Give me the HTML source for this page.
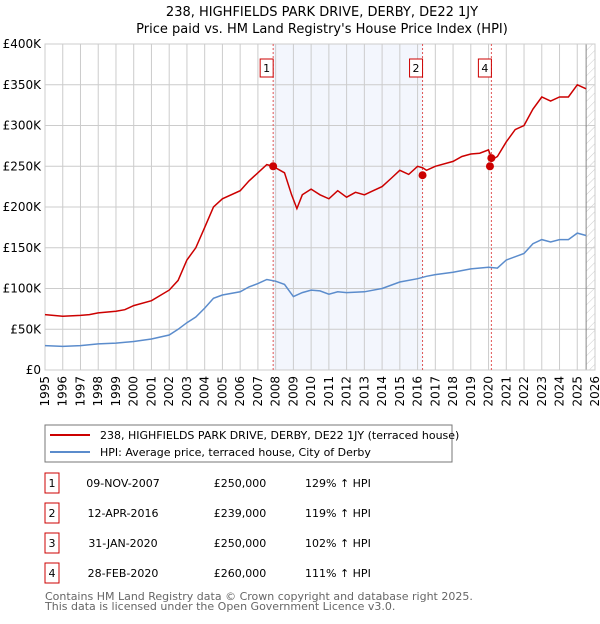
<!DOCTYPE html>
<html><head><meta charset="utf-8">
<style>
body{margin:0;background:#fff;width:600px;height:620px;overflow:hidden;font-family:"DejaVu Sans","Liberation Sans",sans-serif;}
svg text{font-family:"DejaVu Sans","Liberation Sans",sans-serif;}
</style></head>
<body>
<svg id="chart" width="600" height="620" xmlns="http://www.w3.org/2000/svg">
<defs><pattern id="hatch" width="6" height="6" patternUnits="userSpaceOnUse" patternTransform="rotate(45)"><line x1="0" y1="0" x2="0" y2="6" stroke="#ccc" stroke-width="1"/></pattern></defs>
<text x="322" y="16" text-anchor="middle" font-size="13">238, HIGHFIELDS PARK DRIVE, DERBY, DE22 1JY</text>
<text x="322" y="33" text-anchor="middle" font-size="13">Price paid vs. HM Land Registry's House Price Index (HPI)</text>
<g id="plot"></g>
<rect x="45" y="425" width="407" height="37" fill="none" stroke="#777"/>
<line x1="50" y1="435" x2="90" y2="435" stroke="#cc0000" stroke-width="2"/>
<text x="100" y="439" font-size="11">238, HIGHFIELDS PARK DRIVE, DERBY, DE22 1JY (terraced house)</text>
<line x1="50" y1="452" x2="90" y2="452" stroke="#5b8ccc" stroke-width="2"/>
<text x="100" y="456" font-size="11">HPI: Average price, terraced house, City of Derby</text>
<g id="table" font-size="11"></g>
<text x="45" y="600" font-size="11" fill="#666">Contains HM Land Registry data © Crown copyright and database right 2025.</text>
<text x="45" y="610" font-size="11" fill="#666">This data is licensed under the Open Government Licence v3.0.</text>
</svg>
<script>
const propYears=[1995,1996,1997,1997.5,1998,1999,1999.5,2000,2001,2002,2002.5,2003,2003.5,2004,2004.5,2005,2006,2006.5,2007,2007.5,2007.85,2008.5,2008.9,2009.2,2009.5,2010,2010.5,2011,2011.5,2012,2012.5,2013,2013.5,2014,2014.5,2015,2015.5,2016,2016.3,2016.5,2017,2018,2018.5,2019,2019.5,2020,2020.2,2020.5,2021,2021.5,2022,2022.5,2023,2023.5,2024,2024.5,2025,2025.5];
const propVals=[68,66,67,68,70,72,74,79,85,98,110,135,150,175,200,210,220,232,242,252,250,242,215,198,215,222,215,210,220,212,218,215,220,225,235,245,240,250,248,245,250,256,262,265,266,270,258,262,280,295,300,320,335,330,335,335,350,345];
const hpiYears=[1995,1996,1997,1998,1999,2000,2001,2002,2002.5,2003,2003.5,2004,2004.5,2005,2006,2006.5,2007,2007.5,2008,2008.5,2009,2009.5,2010,2010.5,2011,2011.5,2012,2013,2014,2015,2016,2016.5,2017,2018,2019,2020,2020.5,2021,2022,2022.5,2023,2023.5,2024,2024.5,2025,2025.5];
const hpiVals=[30,29,30,32,33,35,38,43,50,58,65,76,88,92,96,102,106,111,109,105,90,95,98,97,93,96,95,96,100,108,112,115,117,120,124,126,125,135,143,155,160,157,160,160,168,165];
const saleYears=[2007.86,2016.28,2020.08,2020.16];
const saleVals=[250,239,250,260];
const saleLabels=["1","2","3","4"];
const saleDates=["09-NOV-2007","12-APR-2016","31-JAN-2020","28-FEB-2020"];
const salePrices=["£250,000","£239,000","£250,000","£260,000"];
const saleHpi=["129% ↑ HPI","119% ↑ HPI","102% ↑ HPI","111% ↑ HPI"];
const yTicks=[0,50,100,150,200,250,300,350,400];
const yTickLabels=["£0","£50K","£100K","£150K","£200K","£250K","£300K","£350K","£400K"];
const xTicks=[1995,1996,1997,1998,1999,2000,2001,2002,2003,2004,2005,2006,2007,2008,2009,2010,2011,2012,2013,2014,2015,2016,2017,2018,2019,2020,2021,2022,2023,2024,2025,2026];

const X0=45,X1=595,Y0=370,Y1=44;
const xs=y=>X0+(y-1995)/(2026-1995)*(X1-X0);
const ys=v=>Y0-v/400*(Y0-Y1);
const NS="http://www.w3.org/2000/svg";
const plot=document.getElementById('plot');
function mk(tag,attrs,parent){const e=document.createElementNS(NS,tag);for(const k in attrs)e.setAttribute(k,attrs[k]);(parent||plot).appendChild(e);return e;}

let e=mk('rect',{x:xs(saleYears[0]),y:Y1,width:xs(saleYears[1])-xs(saleYears[0]),height:Y0-Y1,fill:'#eef2fc',opacity:0.7});


e=mk('rect',{x:xs(2025.5),y:Y1,width:X1-xs(2025.5),height:Y0-Y1,fill:'url(#hatch)'});


yTicks.forEach((t,i)=>{
  let g=mk('line',{x1:X0,x2:X1,y1:ys(t),y2:ys(t),stroke:'#ccc'});
  
  
  let l=mk('text',{x:X0-4,y:ys(t)+4,'text-anchor':'end','font-size':12});
  l.textContent=yTickLabels[i];
  
  
});
xTicks.forEach(t=>{
  let g=mk('line',{x1:xs(t),x2:xs(t),y1:Y1,y2:Y0,stroke:'#ccc'});
  
  
  let l=mk('text',{x:0,y:0,'font-size':12,'text-anchor':'end',transform:`translate(${xs(t)+4},${Y0+6}) rotate(-90)`});
  l.textContent=t;
  
  
});
e=mk('line',{x1:xs(2025.5),x2:xs(2025.5),y1:Y1,y2:Y0,stroke:'#888'});


e=mk('rect',{x:X0,y:Y1,width:X1-X0,height:Y0-Y1,fill:'none',stroke:'#ccc'});


[0,1,3].forEach(i=>{
  let v=mk('line',{x1:xs(saleYears[i]),x2:xs(saleYears[i]),y1:Y1,y2:Y0,stroke:'#e05555','stroke-dasharray':'2,2'});
  
  
  let b=mk('rect',{x:xs(saleYears[i])-13,y:59,width:13,height:18,fill:'#fff',stroke:'#cc0000'});
  
  
  let t=mk('text',{x:xs(saleYears[i])-6.5,y:72,'text-anchor':'middle','font-size':11});
  t.textContent=saleLabels[i];
  
  
});
function path(xa,va){return xa.map((y,i)=>(i?'L':'M')+xs(y).toFixed(1)+','+ys(va[i]).toFixed(1)).join('');}
e=mk('path',{d:path(hpiYears,hpiVals),fill:'none',stroke:'#5b8ccc','stroke-width':1.5});


e=mk('path',{d:path(propYears,propVals),fill:'none',stroke:'#cc0000','stroke-width':1.5});


saleYears.forEach((y,i)=>{
  let c=mk('circle',{cx:xs(y),cy:ys(saleVals[i]),r:4,fill:'#cc0000'});
  
  
});
const tbl=document.getElementById('table');
saleLabels.forEach((s,i)=>{
  const cy=483+i*30;
  let b=mk('rect',{x:45,y:cy-10,width:14,height:20,fill:'#fff',stroke:'#cc0000'},tbl);
  
  
  let t=mk('text',{x:52,y:cy+4,'text-anchor':'middle'},tbl);t.textContent=s;
  
  
  t=mk('text',{x:123,y:cy+4,'text-anchor':'middle'},tbl);t.textContent=saleDates[i];
  
  
  t=mk('text',{x:240,y:cy+4,'text-anchor':'middle'},tbl);t.textContent=salePrices[i];
  
  
  t=mk('text',{x:305,y:cy+4},tbl);t.textContent=saleHpi[i];
  
  
});
</script>
</body></html>
